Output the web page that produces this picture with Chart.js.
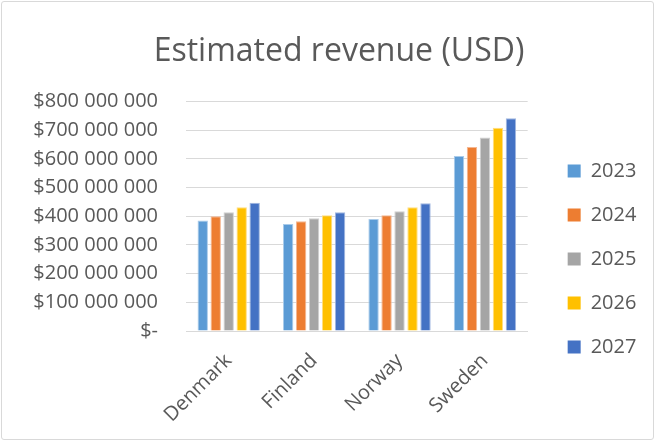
<!DOCTYPE html>
<html>
<head>
<meta charset="utf-8">
<script src="https://cdn.jsdelivr.net/npm/chart.js@4.4.0/dist/chart.umd.min.js"></script>
<style>
  html, body { margin: 0; padding: 0; background: #fff; }
  #wrap { position: absolute; left: 1px; top: 1px; width: 651px; height: 437px; border: 1px solid #d9d9d9; border-radius: 3px; }
  canvas { display: block; }
</style>
</head>
<body>
<div id="wrap"><canvas id="revenueChart" width="651" height="437"></canvas></div>
<script>
// ===== ESTIMATED REVENUE CHART =====

const countries = ['Denmark', 'Finland', 'Norway', 'Sweden'];
const years = ['2023', '2024', '2025', '2026', '2027'];

const rev2023 = [385000000, 373000000, 390000000, 610000000];
const rev2024 = [400000000, 382000000, 403000000, 641000000];
const rev2025 = [414000000, 393000000, 417000000, 674000000];
const rev2026 = [431000000, 403000000, 431000000, 708000000];
const rev2027 = [447000000, 414000000, 445000000, 741000000];

const colors = ['#5B9BD5', '#ED7D31', '#A5A5A5', '#FFC000', '#4472C4'];
const edgeColors = ['#A9CBEA', '#F5B792', '#D0D0D0', '#FFDD80', '#9FB6E0'];
const seriesData = [rev2023, rev2024, rev2025, rev2026, rev2027];

function money(v) {
  if (v === 0) return '$-';
  return '$' + String(v).replace(/\B(?=(\d{3})+(?!\d))/g, ' ');
}

const textColor = '#595959';
const fontFamily = '"Open Sans", sans-serif';

new Chart(document.getElementById('revenueChart'), {
  type: 'bar',
  data: {
    labels: countries,
    datasets: years.map((y, i) => ({
      label: y,
      data: seriesData[i],
      backgroundColor: colors[i],
      borderColor: edgeColors[i],
      borderWidth: 1,
      borderSkipped: 'bottom',
      barPercentage: 0.8,
      categoryPercentage: 0.76
    }))
  },
  options: {
    responsive: false,
    animation: false,
    layout: { padding: { left: 30, right: 7, top: 10, bottom: 6 } },
    plugins: {
      title: {
        display: true,
        text: 'Estimated revenue (USD)',
        color: textColor,
        font: { family: fontFamily, size: 32, weight: 'normal' },
        padding: { top: 21, bottom: 30 }
      },
      legend: {
        position: 'right',
        // empty legend title only pushes the entries down
        title: { display: true, text: ' ', font: { size: 10 }, padding: { top: 0, bottom: 61 } },
        labels: {
          color: textColor,
          font: { family: fontFamily, size: 20 },
          boxWidth: 13,
          boxHeight: 13,
          padding: 24,
          generateLabels: chart => chart.data.datasets.map((ds, i) => ({
            text: ds.label,
            fillStyle: colors[i],
            strokeStyle: colors[i],
            lineWidth: 0,
            fontColor: textColor,
            datasetIndex: i
          }))
        }
      },
      tooltip: { enabled: false }
    },
    scales: {
      y: {
        min: 0, max: 800000000,
        ticks: {
          stepSize: 100000000,
          color: textColor,
          font: { family: fontFamily, size: 20 },
          padding: 28,
          callback: v => money(v)
        },
        grid: { color: '#D9D9D9', drawTicks: false },
        border: { display: false },
        afterFit: s => { s.width = 154; }
      },
      // blank axis: space between plot and legend
      gap: {
        position: 'right',
        display: true,
        ticks: { display: false },
        grid: { display: false },
        border: { display: false },
        afterFit: s => { s.width = 16; }
      },
      x: {
        ticks: {
          color: textColor,
          font: { family: fontFamily, size: 20 },
          maxRotation: 45, minRotation: 45,
          padding: 18
        },
        grid: { display: false, drawTicks: false },
        border: { color: '#D9D9D9', width: 1 },
        afterFit: s => { s.height = 102; }
      }
    }
  }
});
</script>
</body>
</html>
